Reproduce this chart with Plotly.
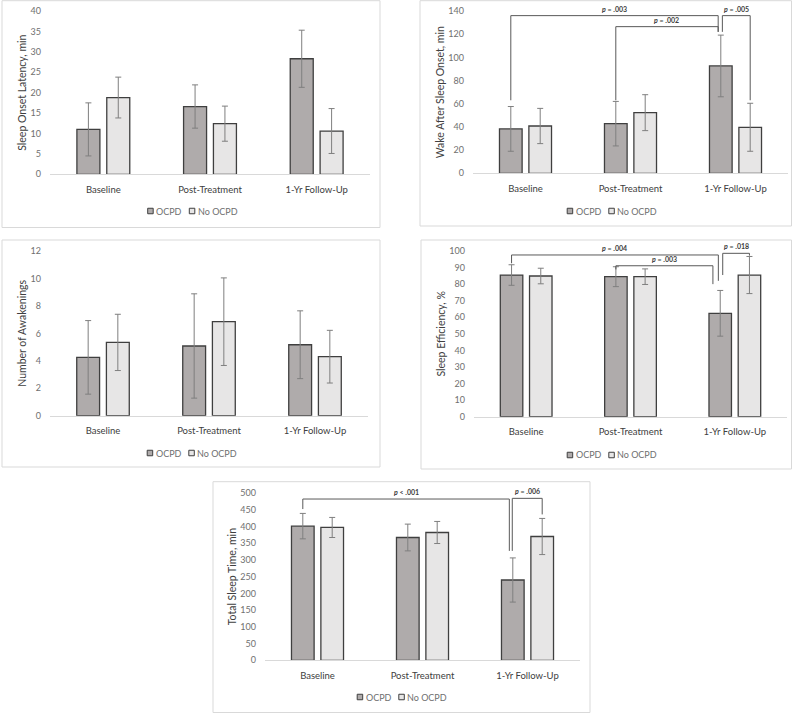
import plotly.graph_objects as go

W, H = 800, 714

categories = ["Baseline", "Post-Treatment", "1-Yr Follow-Up"]
series_names = ["OCPD", "No OCPD"]

# Sleep onset latency (min)
sol_ocpd = [11.0, 16.6, 28.3]
sol_ocpd_err = [6.5, 5.3, 7.0]
sol_no = [18.8, 12.4, 10.6]
sol_no_err = [5.0, 4.3, 5.5]

# Wake after sleep onset (min)
waso_ocpd = [38.3, 42.8, 92.6]
waso_ocpd_err = [19.3, 19.2, 26.6]
waso_no = [40.8, 52.3, 39.7]
waso_no_err = [15.2, 15.5, 20.7]

# Number of awakenings
nawk_ocpd = [4.25, 5.08, 5.17]
nawk_ocpd_err = [2.68, 3.8, 2.47]
nawk_no = [5.34, 6.85, 4.3]
nawk_no_err = [2.05, 3.19, 1.92]

# Sleep efficiency (%)
se_ocpd = [85.5, 84.5, 62.4]
se_ocpd_err = [6.2, 6.0, 13.8]
se_no = [84.9, 84.5, 85.5]
se_no_err = [4.7, 4.7, 11.2]

# Total sleep time (min)
tst_ocpd = [401, 367, 240]
tst_ocpd_err = [38, 40, 66]
tst_no = [397, 382, 370]
tst_no_err = [30, 33, 54]

# significance brackets: (from category, from nudge, to category, to nudge, line y, left leg end, right leg end, label)
waso_brackets = [
    ("Baseline", -0.14, "1-Yr Follow-Up", -0.165, 136, 63, 122, "p = .003"),
    ("Post-Treatment", -0.14, "1-Yr Follow-Up", -0.165, 126.5, 63, 122, "p = .002"),
    ("1-Yr Follow-Up", -0.125, "1-Yr Follow-Up", 0.14, 136, 122, 63, "p = .005"),
]
se_brackets = [
    ("Baseline", -0.14, "1-Yr Follow-Up", -0.158, 97.6, 92.6, 82, "p = .004"),
    ("Post-Treatment", -0.14, "1-Yr Follow-Up", -0.21, 91.1, 88.9, 80, "p = .003"),
    ("1-Yr Follow-Up", -0.116, "1-Yr Follow-Up", 0.14, 98.6, 85.5, 97.2, "p = .018"),
]
tst_brackets = [
    ("Baseline", -0.14, "1-Yr Follow-Up", -0.173, 482, 452, 327, "p < .001"),
    ("1-Yr Follow-Up", -0.145, "1-Yr Follow-Up", 0.14, 484, 327, 436, "p = .006"),
]

panels = [
    dict(title="Sleep Onset Latency, min", ocpd=sol_ocpd, ocpd_err=sol_ocpd_err,
         no=sol_no, no_err=sol_no_err, ymax=40, dtick=5,
         plot=(50, 370, 11, 174.3), box=(2, 380, 0.7, 227.5), legend=(192.5, 211),
         brackets=[]),
    dict(title="Wake After Sleep Onset, min", ocpd=waso_ocpd, ocpd_err=waso_ocpd_err,
         no=waso_no, no_err=waso_no_err, ymax=140, dtick=20,
         plot=(473, 788, 11, 173.3), box=(420, 791.5, 0.7, 226), legend=(612, 211),
         brackets=waso_brackets),
    dict(title="Number of Awakenings", ocpd=nawk_ocpd, ocpd_err=nawk_ocpd_err,
         no=nawk_no, no_err=nawk_no_err, ymax=12, dtick=2,
         plot=(50, 368, 251, 415.7), box=(2, 380, 240, 467), legend=(192, 453),
         brackets=[]),
    dict(title="Sleep Efficiency, %", ocpd=se_ocpd, ocpd_err=se_ocpd_err,
         no=se_no, no_err=se_no_err, ymax=100, dtick=10,
         plot=(474, 787, 251, 416.7), box=(421, 791.5, 240, 469), legend=(612, 455),
         brackets=se_brackets),
    dict(title="Total Sleep Time, min", ocpd=tst_ocpd, ocpd_err=tst_ocpd_err,
         no=tst_no, no_err=tst_no_err, ymax=500, dtick=50,
         plot=(265, 580, 493, 660.3), box=(213, 590, 481.7, 712.5), legend=(402, 697),
         brackets=tst_brackets),
]

FONT = "Lato, 'Open Sans', sans-serif"
C_OCPD = "#afabab"
C_NO = "#e7e6e6"
C_EDGE = "#3f3f3f"
C_ERR = "#7f7f7f"
C_TICK = "#6f6f6f"
C_TEXT = "#404040"
C_BORDER = "#d9d9d9"


def px(x):
    return x / W


def py(y):
    return 1 - y / H


fig = go.Figure()
layout = dict(
    width=W, height=H, margin=dict(l=0, r=0, t=0, b=0),
    paper_bgcolor="white", plot_bgcolor="white",
    barmode="group", bargap=0.44, bargroupgap=0.23,
    showlegend=False, font=dict(family=FONT, color=C_TEXT),
)
shapes = []
annotations = []

for i, p in enumerate(panels):
    k = "" if i == 0 else str(i + 1)
    xa, ya = "x" + k, "y" + k
    x0, x1, ytop, ybot = p["plot"]
    for name, vals, errs, col in [(series_names[0], p["ocpd"], p["ocpd_err"], C_OCPD),
                                  (series_names[1], p["no"], p["no_err"], C_NO)]:
        fig.add_trace(go.Bar(
            x=categories, y=vals, name=name, xaxis=xa, yaxis=ya,
            marker=dict(color=col, line=dict(color=C_EDGE, width=1.3)),
            error_y=dict(type="data", array=errs, color=C_ERR, thickness=1, width=3),
            showlegend=False,
        ))
    layout["xaxis" + k] = dict(
        domain=[px(x0), px(x1)], anchor=ya, type="category",
        showline=True, linecolor=C_BORDER, linewidth=1, showgrid=False, zeroline=False,
        ticks="", tickfont=dict(size=9.5, color=C_TEXT, family=FONT),
        ticklabelstandoff=6, automargin=False, fixedrange=True,
    )
    layout["yaxis" + k] = dict(
        domain=[py(ybot), py(ytop)], anchor=xa, range=[0, p["ymax"]], dtick=p["dtick"],
        showline=False, showgrid=False, zeroline=False, ticks="",
        tickfont=dict(size=9, color=C_TICK, family=FONT), ticklabelstandoff=8,
        title=dict(text=p["title"], font=dict(size=10.5, color=C_TEXT, family=FONT), standoff=1),
        automargin=False, fixedrange=True,
    )
    bx0, bx1, by0, by1 = p["box"]
    shapes.append(dict(type="rect", xref="paper", yref="paper",
                       x0=px(bx0), x1=px(bx1), y0=py(by1), y1=py(by0),
                       line=dict(color=C_BORDER, width=1), fillcolor="rgba(0,0,0,0)", layer="below"))

    # brackets
    for (ca, na, cb, nb, yl, ya_end, yb_end, label) in p["brackets"]:
        xa_v = categories.index(ca) + na
        xb_v = categories.index(cb) + nb
        for (sx0, sy0, sx1, sy1) in [(xa_v, ya_end, xa_v, yl), (xa_v, yl, xb_v, yl), (xb_v, yl, xb_v, yb_end)]:
            shapes.append(dict(type="line", xref=xa, yref=ya, x0=sx0, y0=sy0, x1=sx1, y1=sy1,
                               line=dict(color="#595959", width=1)))
        annotations.append(dict(
            xref=xa, yref=ya, x=(xa_v + xb_v) / 2, y=yl, yanchor="bottom", xanchor="center",
            yshift=1, showarrow=False,
            text="<b><i>p</i> " + label[2:] + "</b>",
            font=dict(size=7, color=C_TEXT, family=FONT),
        ))

    # legend (drawn in paper space)
    cx, cy = p["legend"]
    for off, txt, col in [(-44.8, series_names[0], C_OCPD), (-3.2, series_names[1], C_NO)]:
        sx = cx + off
        shapes.append(dict(type="rect", xref="paper", yref="paper",
                           x0=px(sx), x1=px(sx + 5.5), y0=py(cy + 2.75), y1=py(cy - 2.75),
                           line=dict(color=C_EDGE, width=1), fillcolor=col))
        annotations.append(dict(
            xref="paper", yref="paper", x=px(sx + 6.5), y=py(cy), xanchor="left", yanchor="middle",
            showarrow=False, text=txt, font=dict(size=9, color=C_TICK, family=FONT),
        ))

layout["shapes"] = shapes
layout["annotations"] = annotations
fig.update_layout(**layout)
fig.write_html("out.html", config={"displayModeBar": False},
               post_script="document.body.style.margin='0px';")
